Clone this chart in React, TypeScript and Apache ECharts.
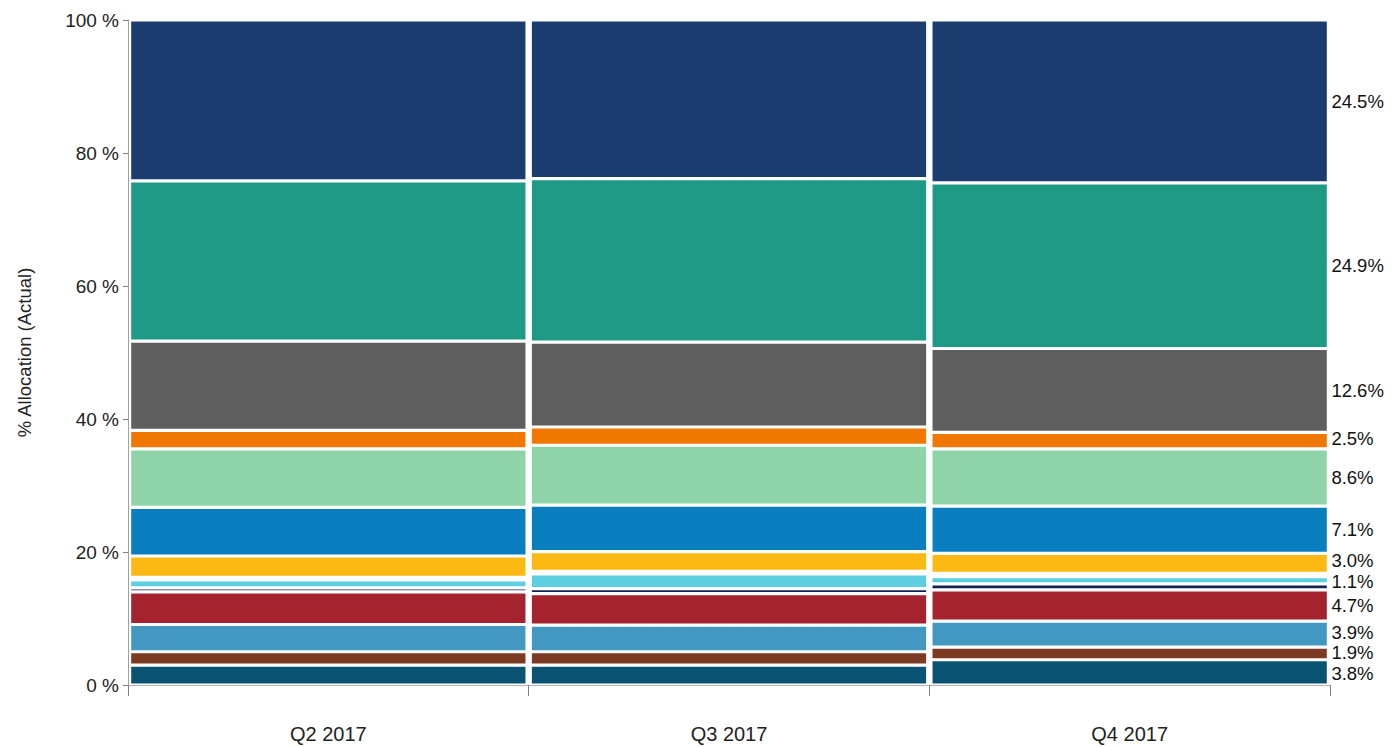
import React, { useEffect, useRef } from "react";
import * as echarts from "echarts";

const categories = ["Q2 2017", "Q3 2017", "Q4 2017"];

// bottom -> top
const darkTeal = [3.0, 3.0, 3.8];
const brown = [2.0, 2.0, 1.9];
const steelBlue = [4.1, 4.0, 3.9];
const red = [4.9, 4.75, 4.7];
const thinNavy = [0.6, 0.75, 0.9];
const cyan = [1.2, 2.2, 1.1];
const thinGreen = [0.4, 0.4, 0.5];
const yellow = [3.2, 2.95, 3.0];
const blue = [7.3, 7.0, 7.1];
const lightGreen = [8.8, 9.0, 8.6];
const orange = [2.8, 2.75, 2.5];
const gray = [13.4, 12.75, 12.6];
const teal = [24.1, 24.6, 24.9];
const navy = [24.2, 23.85, 24.5];

const yTicks = [0, 20, 40, 60, 80, 100];

const seriesDefs = [
  { name: "Dark Teal", data: darkTeal, color: "#0b5373", label: true, dy: 1.5 },
  { name: "Brown", data: brown, color: "#7c3a22", label: true, dy: -0.5 },
  { name: "Steel Blue", data: steelBlue, color: "#4298c0", label: true, dy: -1.5 },
  { name: "Red", data: red, color: "#a5232e", label: true, dy: 0 },
  { name: "Thin Navy", data: thinNavy, color: "#13234f", label: false, dy: 0 },
  { name: "Cyan", data: cyan, color: "#5ccfe0", label: true, dy: 1.5 },
  { name: "Thin Green", data: thinGreen, color: "#2a8a6e", label: false, dy: 0 },
  { name: "Yellow", data: yellow, color: "#fdb913", label: true, dy: -2.5 },
  { name: "Blue", data: blue, color: "#0a7fc0", label: true, dy: 0 },
  { name: "Light Green", data: lightGreen, color: "#8fd4a8", label: true, dy: 0 },
  { name: "Orange", data: orange, color: "#f07800", label: true, dy: -2 },
  { name: "Gray", data: gray, color: "#5f5f5f", label: true, dy: 0 },
  { name: "Teal", data: teal, color: "#1e9a87", label: true, dy: 0 },
  { name: "Navy", data: navy, color: "#1a3c6e", label: true, dy: 0 },
];

const FONT = "'Liberation Sans', Arial, sans-serif";

export default function App() {
  const ref = useRef<HTMLDivElement>(null);
  useEffect(() => {
    if (!ref.current) return;
    const chart = echarts.init(ref.current, null, { renderer: "svg" });
    const last = categories.length - 1;
    chart.setOption({
      animation: false,
      backgroundColor: "#ffffff",
      textStyle: { fontFamily: FONT },
      grid: { left: 128, right: 63, top: 20, bottom: 62 },
      xAxis: {
        type: "category",
        data: categories,
        axisLine: { show: true, lineStyle: { color: "#b0b0b0", width: 1 } },
        axisTick: { show: true, length: 11, lineStyle: { color: "#808080" } },
        axisLabel: { color: "#222", fontSize: 20, margin: 39, fontFamily: FONT },
      },
      yAxis: {
        type: "value",
        min: 0,
        max: 100,
        interval: 20,
        name: "% Allocation (Actual)",
        nameLocation: "middle",
        nameGap: 94,
        nameRotate: 90,
        nameTextStyle: { color: "#222", fontSize: 18.5, fontFamily: FONT },
        axisLine: { show: true, lineStyle: { color: "#a0a0a0", width: 1 } },
        axisTick: { show: true, length: 5, lineStyle: { color: "#808080" } },
        splitLine: { show: false },
        axisLabel: {
          color: "#222",
          fontSize: 19,
          margin: 9,
          fontFamily: FONT,
          formatter: (v: number) => (yTicks.includes(v) ? `${v} %` : ""),
        },
      },
      series: seriesDefs.map((s) => ({
        name: s.name,
        type: "bar",
        stack: "total",
        barCategoryGap: "0.8%",
        itemStyle: { color: s.color, borderColor: "#ffffff", borderWidth: 1.6 },
        data: s.data.map((v, i) => ({
          value: v,
          label:
            i === last && s.label
              ? {
                  show: true,
                  position: "right",
                  distance: 3,
                  offset: [0, s.dy],
                  color: "#111",
                  fontSize: 18.5,
                  lineHeight: 15,
                  fontFamily: FONT,
                  formatter: `${v.toFixed(1)}%`,
                }
              : { show: false },
        })),
      })),
    });
    return () => chart.dispose();
  }, []);
  return (
    <div
      ref={ref}
      style={{ position: "fixed", left: 0, top: 0, width: 1393, height: 747 }}
    />
  );
}
